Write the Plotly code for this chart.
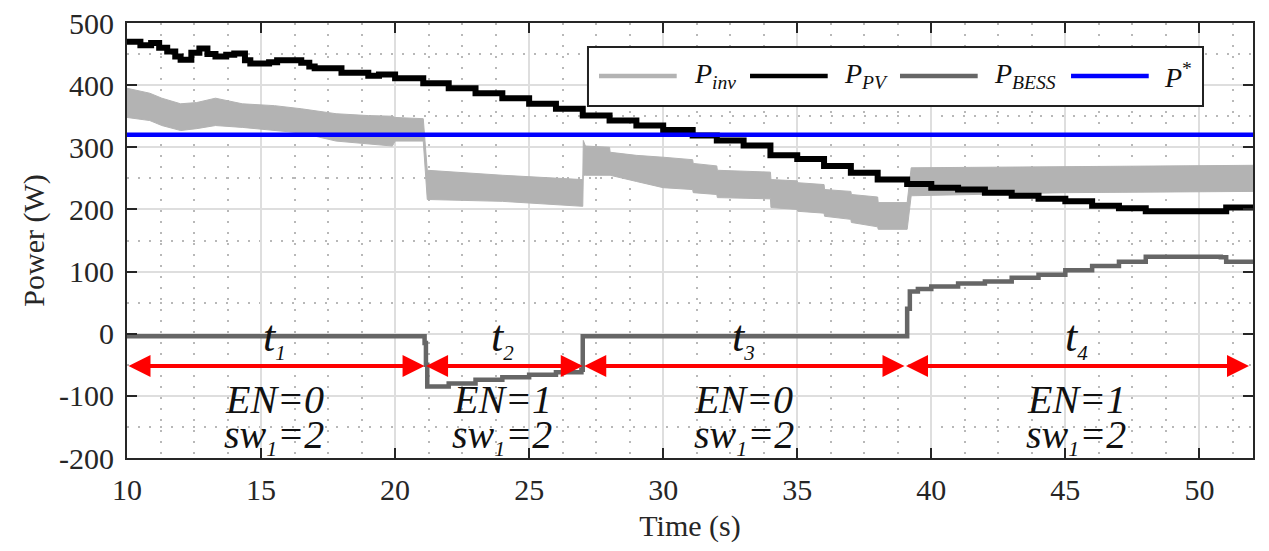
import plotly.graph_objects as go

# ---------------- data ----------------
time_pv = [10.0, 10.5, 10.9, 11.2, 11.5, 11.8, 12.0, 12.4, 12.7, 13.0, 13.3, 13.7, 14.0,
           14.4, 14.6, 15.3, 15.6, 16.5, 16.8, 17.0, 18.0, 19.0, 19.4, 20.0, 21.05, 22.0,
           23.0, 24.0, 25.0, 26.0, 27.0, 28.0, 29.0, 30.0, 31.1, 32.0, 33.0, 34.0, 35.0,
           36.0, 37.0, 38.0, 39.1, 40.0, 41.0, 42.0, 43.0, 44.0, 45.0, 46.0, 47.0, 48.0,
           51.0, 52.0]
p_pv = [470, 464, 468, 460, 454, 446, 441, 452, 459, 450, 446, 449, 451,
        440, 435, 437, 440, 436, 430, 427, 420, 415, 417, 411, 403, 395,
        387, 379, 370, 362, 351, 343, 335, 328, 319, 311, 303, 287, 281,
        270, 259, 248, 241, 235, 232, 227, 222, 217, 213, 206, 202, 197,
        203, 203]

time_inv = [10.0, 10.85, 11.3, 12.0, 12.6, 13.3, 14.3, 15.5, 16.5, 17.8, 19.0, 19.9, 20.0,
            21.05, 21.2, 24.0, 27.0, 27.02, 27.1, 28.0, 28.02, 29.0, 30.0, 31.1, 31.12,
            32.0, 32.02, 34.0, 34.02, 35.0, 35.02, 36.0, 36.02, 37.0, 37.02, 38.0, 38.02,
            39.1, 39.25, 45.0, 52.0]
p_inv_upper = [395, 387, 379, 370, 372, 379, 370, 367, 362, 354, 351, 350, 348,
               346, 263, 255, 248, 311, 302, 300, 292, 287, 284, 280, 274,
               270, 263, 260, 248, 246, 243, 240, 232, 229, 224, 220, 211,
               211, 267, 269, 271]
p_inv_lower = [348, 343, 335, 327, 330, 335, 332, 327, 323, 310, 306, 302, 310,
               310, 216, 213, 205, 255, 255, 255, 255, 245, 235, 232, 227,
               224, 219, 217, 203, 200, 197, 194, 189, 184, 179, 172, 168,
               168, 222, 227, 229]

time_bess = [10.0, 21.0, 21.1, 21.15, 21.2, 22.0, 23.0, 24.0, 25.0, 26.0, 26.95, 27.0,
             38.9, 39.1, 39.2, 39.5, 40.0, 41.0, 42.0, 43.0, 44.0, 45.0, 46.0, 47.0,
             48.0, 50.8, 51.0, 52.0]
p_bess = [-4, -4, -15, -50, -85, -80, -74, -70, -66, -62, -58, -4,
          -4, 40, 68, 72, 76, 81, 84, 90, 95, 102, 109, 116,
          124, 123, 116, 116]

time_ref = [10, 52]
p_ref = [320, 320]

seg_bounds = [10.0, 21.1, 27.0, 39.0, 51.85]
seg_centers = [15.5, 24.0, 33.0, 45.4]
seg_index = ["1", "2", "3", "4"]
seg_en = ["0", "1", "0", "1"]
seg_sw = ["2", "2", "2", "2"]
arrow_level = -52

x_ticks = [10, 15, 20, 25, 30, 35, 40, 45, 50]
y_ticks = [-200, -100, 0, 100, 200, 300, 400, 500]
y_tick_labels = ["-200", "-100", "0", "100", "200", "300", "400", "500"]

legend_names = ["<i>P</i><sub><i>inv</i></sub>", "<i>P</i><sub><i>PV</i></sub>",
                "<i>P</i><sub><i>BESS</i></sub>", "<i>P</i><sup>*</sup>"]

# ---------------- styles ----------------
FONT = "Liberation Serif"
C_INV = "#b3b3b3"
C_PV = "#000000"
C_BESS = "#666666"
C_REF = "#0000ff"
C_ARROW = "#ff0000"
legend_colors = [C_INV, C_PV, C_BESS, C_REF]

fig = go.Figure()

fig.add_trace(go.Scatter(x=time_inv, y=p_inv_upper, mode="lines",
                         line=dict(color=C_INV, width=1), showlegend=False,
                         hoverinfo="skip"))
fig.add_trace(go.Scatter(x=time_inv, y=p_inv_lower, mode="lines", fill="tonexty",
                         fillcolor=C_INV, line=dict(color=C_INV, width=1),
                         name="P_inv", showlegend=False))
fig.add_trace(go.Scatter(x=time_pv, y=p_pv, mode="lines", line_shape="hv",
                         line=dict(color=C_PV, width=6), name="P_PV", showlegend=False))
fig.add_trace(go.Scatter(x=time_bess, y=p_bess, mode="lines", line_shape="hv",
                         line=dict(color=C_BESS, width=4.5), name="P_BESS", showlegend=False))
fig.add_trace(go.Scatter(x=time_ref, y=p_ref, mode="lines",
                         line=dict(color=C_REF, width=4.5), name="P*", showlegend=False))

annotations = []
# double-headed red arrows for each interval
for a, b in zip(seg_bounds[:-1], seg_bounds[1:]):
    annotations.append(dict(x=b, y=arrow_level, ax=a, ay=arrow_level,
                            xref="x", yref="y", axref="x", ayref="y",
                            text="", showarrow=True, arrowside="end+start",
                            arrowhead=2, startarrowhead=2, arrowsize=1.1,
                            startarrowsize=1.1, arrowwidth=4, arrowcolor=C_ARROW,
                            standoff=0, startstandoff=0))

TXT = "#111111"
for xc, idx, en, sw in zip(seg_centers, seg_index, seg_en, seg_sw):
    annotations.append(dict(x=xc, y=-8, xref="x", yref="y", showarrow=False,
                            text=f"<i>t<sub><span style='font-size:21px'>{idx}</span></sub></i>",
                            font=dict(family=FONT, size=44, color=TXT)))
    annotations.append(dict(x=xc, y=-106, xref="x", yref="y", showarrow=False,
                            text=f"<i>EN={en}</i>",
                            font=dict(family=FONT, size=40, color=TXT)))
    annotations.append(dict(x=xc, y=-166, xref="x", yref="y", showarrow=False,
                            text=f"<i>sw<sub><span style='font-size:22px'>1</span></sub>={sw}</i>",
                            font=dict(family=FONT, size=40, color=TXT)))

# manual legend (paper coords of the plot area)
shapes = [dict(type="rect", xref="paper", yref="paper", x0=0.4094, x1=0.9556,
               y0=0.8092, y1=0.9448, line=dict(color="#222222", width=2),
               fillcolor="white", layer="above")]
sample_x0 = [0.4192, 0.5533, 0.6865, 0.8384]
sample_len = 0.069
text_x = [0.5018, 0.6350, 0.7682, 0.9192]
for sx, tx, name, col in zip(sample_x0, text_x, legend_names, legend_colors):
    shapes.append(dict(type="line", xref="paper", yref="paper", x0=sx, x1=sx + sample_len,
                       y0=0.8782, y1=0.8782, line=dict(color=col, width=4.5), layer="above"))
    annotations.append(dict(x=tx, y=0.8782, xref="paper", yref="paper", xanchor="left",
                            yanchor="middle", showarrow=False, text=name,
                            font=dict(family=FONT, size=28, color=TXT)))

axis_common = dict(showline=True, linecolor="#262626", linewidth=2, mirror="ticks",
                   ticks="inside", ticklen=10, tickwidth=2, tickcolor="#262626",
                   showgrid=True, gridcolor="#dedede", gridwidth=2, zeroline=False,
                   automargin=False, ticklabeloverflow="allow",
                   tickfont=dict(family=FONT, size=30, color="#262626"))

# the page body adds an 8px offset, so the figure is 8px smaller than the window
fig.update_layout(
    width=1261, height=543,
    margin=dict(l=119, r=16, t=15, b=93),
    paper_bgcolor="white", plot_bgcolor="white",
    font=dict(family=FONT, color="#262626"),
    showlegend=False,
    shapes=shapes,
    annotations=annotations,
    xaxis=dict(range=[10, 52], tickvals=x_ticks, ticklabelstandoff=4,
               minor=dict(dtick=1.25, showgrid=True, gridcolor="#b8b8b8",
                          griddash="2px,9px", gridwidth=2, ticks=""),
               title=dict(text="Time (s)", font=dict(family=FONT, size=30, color="#262626"),
                          standoff=10),
               **axis_common),
    yaxis=dict(range=[-200, 500], tickvals=y_ticks, ticktext=y_tick_labels,
               ticklabelstandoff=5,
               minor=dict(dtick=50, showgrid=True, gridcolor="#b8b8b8",
                          griddash="2px,9px", gridwidth=2, ticks=""),
               title=dict(text="Power (W)", font=dict(family=FONT, size=30, color="#262626"),
                          standoff=6),
               **axis_common),
)

fig.write_html("out.html")
